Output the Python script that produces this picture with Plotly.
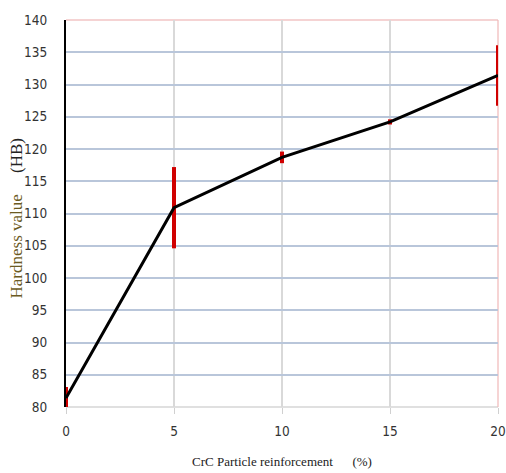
import plotly.graph_objects as go

reinforcement = [0, 5, 10, 15, 20]
hardness = [81.4, 110.9, 118.7, 124.2, 131.4]
hardness_err = [1.7, 6.3, 0.9, 0.4, 4.7]
x_ticks = [0, 5, 10, 15, 20]
y_ticks = list(range(80, 141, 5))

fig = go.Figure()
fig.add_trace(go.Scatter(
    x=reinforcement, y=hardness, mode="lines",
    line=dict(color="black", width=3),
    error_y=dict(type="data", array=hardness_err, visible=True,
                 color="#d00000", thickness=4, width=0),
    showlegend=False, cliponaxis=False, hoverinfo="skip",
))

tick_font = dict(family="DejaVu Sans Condensed, Liberation Sans Narrow, Arial Narrow", size=13.5, color="#333")

fig.update_layout(
    width=506, height=473,
    margin=dict(l=66, r=8, t=20, b=66),
    paper_bgcolor="white", plot_bgcolor="white",
    xaxis=dict(range=[0, 20], tickvals=x_ticks, showgrid=True, gridcolor="#d9d9d9", gridwidth=1.5,
               zeroline=False, showline=False, ticks="outside", ticklen=6, tickcolor="#d0d0d0",
               ticklabelstandoff=6, tickfont=tick_font, automargin=False, ticklabeloverflow="allow",
               title=dict(text="CrC Particle reinforcement&nbsp;&nbsp;&nbsp;&nbsp;&nbsp;&nbsp;(%)",
                          font=dict(family="Liberation Serif, Times New Roman", size=13, color="#222"),
                          standoff=18)),
    yaxis=dict(range=[80, 140], tickvals=y_ticks, showgrid=True, gridcolor="#b9c6da", gridwidth=2,
               zeroline=False, showline=True, linecolor="black", linewidth=2,
               ticks="", ticklabelstandoff=14, tickfont=tick_font, automargin=False,
               ticklabeloverflow="allow"),
    annotations=[
        dict(text="<span style='color:#6b5a22'>Hardness value</span>&nbsp;&nbsp;&nbsp;&nbsp;&nbsp;(HB)",
             xref="paper", yref="paper", x=0, y=0.5, xanchor="center", yanchor="middle",
             xshift=-50, yshift=-5, textangle=-90, showarrow=False,
             font=dict(family="Liberation Serif, Times New Roman", size=17, color="#222")),
    ],
    shapes=[
        dict(type="line", xref="paper", yref="paper", x0=0, x1=1, y0=1, y1=1,
             line=dict(color="#f2c4c4", width=1.5), layer="below"),
        dict(type="line", xref="paper", yref="paper", x0=0, x1=1, y0=0, y1=0,
             line=dict(color="#d6d6d6", width=1.5), layer="below"),
        dict(type="line", xref="paper", yref="paper", x0=1, x1=1, y0=0, y1=1,
             line=dict(color="#f0b8b8", width=1.2), layer="below"),
    ],
)

fig.write_html("out.html", config={"displayModeBar": False},
               post_script="document.body.style.margin='0';")
